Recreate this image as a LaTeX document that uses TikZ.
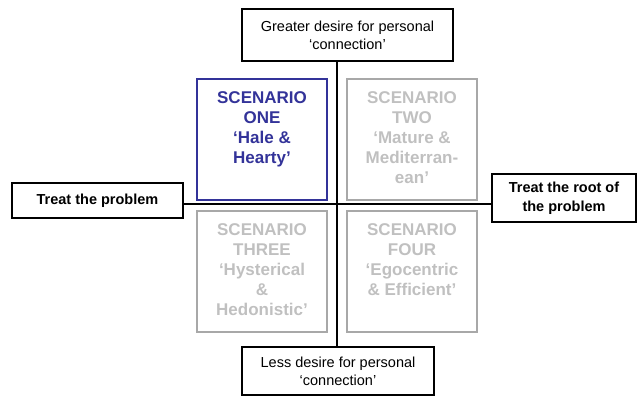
\documentclass[tikz,border=0pt]{standalone}
\usepackage{fontspec}
\setmainfont{Liberation Sans}
\definecolor{scblue}{RGB}{51,51,153}
\definecolor{bordergray}{RGB}{168,168,168}
\definecolor{textgray}{RGB}{192,192,192}
\newcommand\scentext[1]{\parbox[c][95pt][t]{128pt}{\centering\fontsize{17}{20}\selectfont\bfseries #1}}
\tikzset{
  lbl/.style={draw=black, line width=1.2pt, inner sep=0pt, align=center, font=\fontsize{14.5}{18}\selectfont},
  axis/.style={draw=black, line width=1.2pt},
  scen/.style={line width=2.2pt, inner sep=0pt, minimum width=130pt, minimum height=121pt},
  scenon/.style={scen, draw=scblue, text=scblue},
  scenoff/.style={scen, draw=bordergray, text=textgray},
}
\begin{document}
\begin{tikzpicture}[x=1pt, y=-1pt]
\useasboundingbox (0,0) rectangle (637,397);
\coordinate (c) at (337,204);
\node[lbl, minimum width=211pt, minimum height=52pt] (top) at (347.5,35) {Greater desire for personal\\‘connection’};
\node[lbl, minimum width=192pt, minimum height=48pt] (bottom) at (338,371) {Less desire for personal\\‘connection’};
\node[lbl, font=\fontsize{14.5}{18}\selectfont\bfseries, minimum width=171pt, minimum height=35pt] (left) at (97.5,200.5) {Treat the problem};
\node[lbl, font=\fontsize{14.5}{18.5}\selectfont\bfseries, minimum width=144pt, minimum height=48pt] (right) at (564,198) {Treat the root of\\the problem};
\draw[axis] (c |- top.south) -- (c |- bottom.north);
\draw[axis] (left.east |- c) -- (right.west |- c);
\node[scenon] (s1) at (262,139.5) {\scentext{SCENARIO\\ONE\\‘Hale \&\\Hearty’}};
\node[scenoff] (s2) at (412,139.5) {\scentext{SCENARIO\\TWO\\‘Mature \&\\Mediterran-\\ean’}};
\node[scenoff] (s3) at (262,271.5) {\scentext{SCENARIO\\THREE\\‘Hysterical\\\&\\Hedonistic’}};
\node[scenoff] (s4) at (412,271.5) {\scentext{SCENARIO\\FOUR\\‘Egocentric\\\& Efficient’}};
\end{tikzpicture}
\end{document}
